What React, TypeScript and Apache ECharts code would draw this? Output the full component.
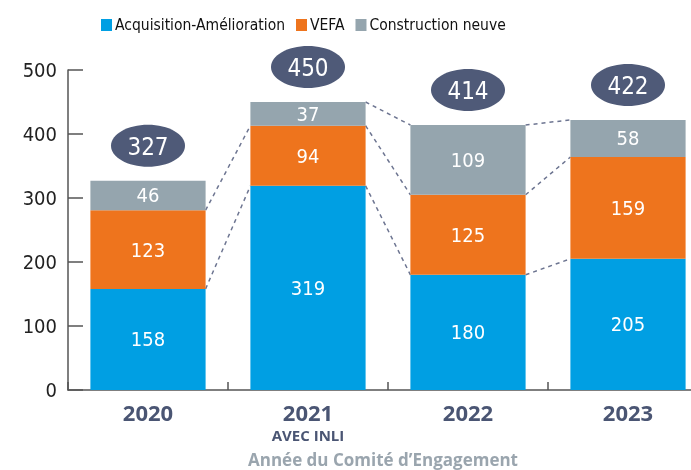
import React, { useEffect, useRef } from "react";
import * as echarts from "echarts";

const years = ["2020", "2021", "2022", "2023"];
const subLabels = ["", "AVEC INLI", "", ""];
const seriesNames = ["Acquisition-Amélioration", "VEFA", "Construction neuve"];
const acquisition = [158, 319, 180, 205];
const vefa = [123, 94, 125, 159];
const construction = [46, 37, 109, 58];
const totals = [327, 450, 414, 422];
// which stack levels (1 = top of first series, ...) are linked between bar i and i+1
const gapLevels = [[1, 2], [1, 2, 3], [1, 2, 3]];

const COND = '"DejaVu Sans Condensed", "Liberation Sans Narrow", "Roboto Condensed", Roboto, sans-serif';
const BOLD = '"Open Sans", Roboto, sans-serif';
const colors = ["#009FE3", "#EE741D", "#95A5AE"];

export default function App() {
  const ref = useRef<HTMLDivElement>(null);
  useEffect(() => {
    if (!ref.current) return;
    const chart = echarts.init(ref.current, null, { renderer: "svg" });
    const stacks = [acquisition, vefa, construction];
    const cum = years.map((_, i) => {
      let s = 0;
      return stacks.map((arr) => (s += arr[i]));
    });
    const links: number[][] = [];
    gapLevels.forEach((levels, i) => {
      levels.forEach((lv) => links.push([i, cum[i][lv - 1], cum[i + 1][lv - 1]]));
    });
    const barSeries = stacks.map((arr, k) => ({
      name: seriesNames[k],
      type: "bar",
      stack: "total",
      barWidth: "72%",
      data: arr,
      itemStyle: { color: colors[k] },
      label: {
        show: true,
        position: "inside",
        color: "#fff",
        fontFamily: COND,
        fontSize: 20,
      },
    }));
    chart.setOption({
      animation: false,
      legend: {
        data: seriesNames,
        left: 96,
        top: 12,
        itemWidth: 11,
        itemHeight: 12,
        itemGap: 11,
        icon: "rect",
        textStyle: { fontFamily: COND, fontSize: 15.5, color: "#111", padding: [0, 0, 0, -2] },
      },
      grid: { left: 68, right: -17, top: 70, bottom: 80, outerBoundsMode: "none", containLabel: false },
      xAxis: {
        type: "category",
        data: years,
        axisLine: { lineStyle: { color: "#555", width: 1.5 } },
        axisTick: { show: true, inside: true, length: 8, lineStyle: { color: "#555", width: 1.5 } },
        axisLabel: {
          margin: 9,
          formatter: (v: string, i: number) =>
            subLabels[i] ? `{y|${v}}\n{s|${subLabels[i]}}` : `{y|${v}}`,
          rich: {
            y: { fontFamily: BOLD, fontWeight: "bold", fontSize: 22, color: "#4a5573", lineHeight: 25 },
            s: { fontFamily: BOLD, fontWeight: "bold", fontSize: 15, color: "#4a5573", lineHeight: 21 },
          },
        },
        name: "Année du Comité d’Engagement",
        nameLocation: "middle",
        nameGap: 60,
        nameTextStyle: {
          fontFamily: BOLD,
          fontWeight: "bold",
          fontSize: 17,
          lineHeight: 19,
          color: "#9aa5ae",
          padding: [0, 10, 0, 0],
        },
      },
      yAxis: {
        type: "value",
        min: 0,
        max: 500,
        interval: 100,
        splitLine: { show: false },
        axisLine: { show: true, lineStyle: { color: "#555", width: 1.5 } },
        axisTick: { show: true, inside: true, length: 15, lineStyle: { color: "#555", width: 1.5 } },
        axisLabel: { fontFamily: COND, fontSize: 20, color: "#222", margin: 11 },
      },
      series: [
        ...barSeries,
        {
          type: "custom",
          name: "links",
          data: links,
          z: 1,
          silent: true,
          clip: false,
          encode: { x: 0, y: 1 },
          renderItem: (params: any, api: any) => {
            const i = api.value(0);
            const a = api.coord([i, api.value(1)]);
            const b = api.coord([i + 1, api.value(2)]);
            const half = api.size([1, 0])[0] * 0.36;
            return {
              type: "line",
              shape: { x1: a[0] + half, y1: a[1], x2: b[0] - half, y2: b[1] },
              style: { stroke: "#6d7591", lineWidth: 1.5, lineDash: [4, 4] },
            };
          },
        },
        {
          type: "custom",
          name: "totals",
          data: totals.map((t, i) => [i, t]),
          z: 5,
          silent: true,
          clip: false,
          encode: { x: 0, y: 1 },
          renderItem: (params: any, api: any) => {
            const p = api.coord([api.value(0), api.value(1)]);
            const cy = p[1] - 35;
            return {
              type: "group",
              children: [
                { type: "ellipse", shape: { cx: p[0], cy, rx: 37, ry: 21 }, style: { fill: "#4f5a78" } },
                {
                  type: "text",
                  style: {
                    text: String(api.value(1)),
                    x: p[0],
                    y: cy + 1,
                    align: "center",
                    verticalAlign: "middle",
                    fill: "#fff",
                    fontFamily: COND,
                    fontSize: 24,
                  },
                },
              ],
            };
          },
        },
      ],
    });
    return () => chart.dispose();
  }, []);
  return <div ref={ref} style={{ position: "fixed", left: 0, top: 0, width: 691, height: 470 }} />;
}
